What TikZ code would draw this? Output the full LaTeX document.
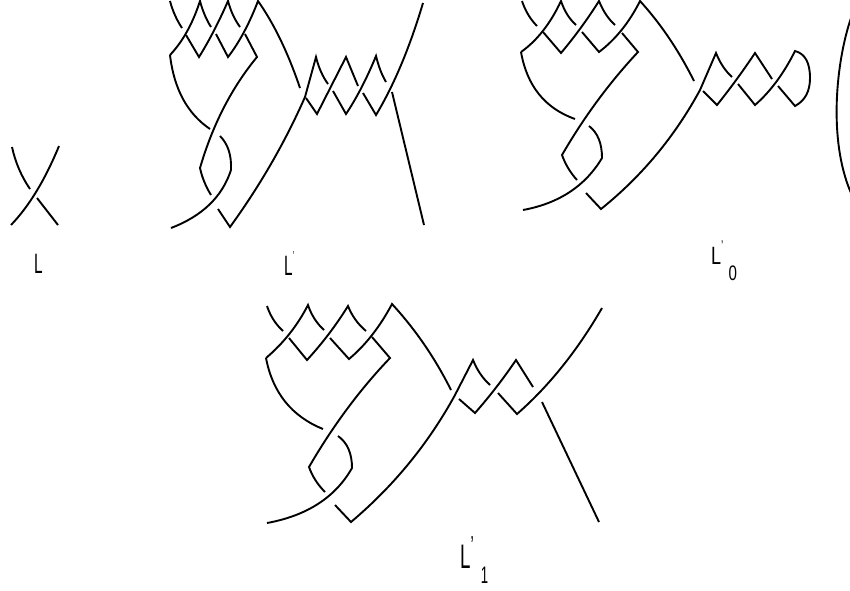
\documentclass[tikz,border=0pt]{standalone}
\usepackage{fontspec}
\usetikzlibrary{calc}
\setmainfont{Liberation Sans}
\newcommand{\narrow}[2][0.62]{\scalebox{#1}[1]{#2}}
\tikzset{
  strand/.style={line width=1.9pt,line cap=butt,line join=miter,black},
  q/.style={to path={.. controls ($(\tikztostart)!0.667!#1$) and ($(\tikztotarget)!0.667!#1$) .. (\tikztotarget)}},
  lab/.style={inner sep=0pt,anchor=base west}
}
\begin{document}
\begin{tikzpicture}[x=1pt,y=-1pt]
\useasboundingbox (0,0) rectangle (850,590);
% L
\begin{scope}[strand]
\draw (12,147) to[q={(17,170)}] (30,189);
\draw (11,225) to[q={(38,197)}] (59,146);
\draw (37,198) -- (58,225);
\end{scope}
\node[lab,font=\fontsize{28}{28}\selectfont] (labelL) at (34,273) {\narrow[0.55]{L}};
% L'
\begin{scope}[strand]
\draw (170,1) to[q={(174,16)}] (182,28);
\draw (170,55) to[q={(189,35)}] (200,1) to[q={(204,16)}] (211,27);
\draw (186,35) -- (199,57) to[q={(214,33)}] (228,1) to[q={(232,16)}] (240,27);
\draw (216,34) -- (228,57) to[q={(245,35)}] (258,1) to[q={(282,35)}] (300,88);
\draw (245,34) -- (257,57) to[q={(219,103)}] (200,168) to[q={(203,182)}] (211,195);
\draw (170,55) to[q={(176,106)}] (210,129);
\draw (220,136) to[q={(232,148)}] (231,170) to[q={(218,210)}] (171,228);
\draw (218,209) -- (230,227) to[q={(275,165)}] (305,97) -- (316,57) to[q={(320,73)}] (328,84);
\draw (306,98) -- (317,114) -- (346,57) -- (358,86);
\draw (333,91) -- (346,114) to[q={(362,90)}] (376,56) to[q={(380,72)}] (386,82);
\draw (363,93) -- (376,115) to[q={(403,70)}] (423,3);
\draw (392,92) -- (424,225);
\end{scope}
\node[lab,font=\fontsize{28}{28}\selectfont] (labelLp) at (284,275) {\narrow[0.55]{L\raisebox{15pt}{\fontsize{13}{13}\selectfont'}}};
% L'_0
\begin{scope}[strand]
\draw (522,1) to[q={(527,16)}] (537,26);
\draw (521,52) to[q={(545,35)}] (561,1) to[q={(566,16)}] (576,25);
\draw (543,32) -- (561,53) to[q={(582,28)}] (599,1) to[q={(605,16)}] (615,25);
\draw (582,32) -- (599,52) to[q={(624,33)}] (640,1) to[q={(671,35)}] (694,81);
\draw (622,33) -- (638,52) to[q={(595,98)}] (562,155) to[q={(567,169)}] (577,180);
\draw (521,52) to[q={(530,103)}] (575,119);
\draw (589,126) to[q={(602,136)}] (602,158) to[q={(577,200)}] (523,210);
\draw (586,193) -- (601,209) to[q={(662,160)}] (700,90) -- (716,53) to[q={(722,68)}] (732,77);
\draw (703,91) -- (717,105) to[q={(737,80)}] (755,53) -- (772,79);
\draw (738,84) -- (755,105) to[q={(778,85)}] (795,51) to[q={(810,55)}] (810,78) to[q={(810,98)}] (795,106) -- (778,86);
\draw (851,18) .. controls (836,62) and (828,140) .. (851,193);
\end{scope}
\node[lab,font=\fontsize{25}{25}\selectfont] (labelLz) at (711,264) {\narrow[0.72]{L\raisebox{14pt}{\fontsize{14}{14}\selectfont'}\hspace{7pt}\raisebox{-16pt}{\fontsize{21}{21}\selectfont 0}}};
% L'_1
\begin{scope}[strand]
\draw (267,306) to[q={(272,321)}] (283,331);
\draw (266,358) to[q={(292,336)}] (308,305) to[q={(313,320)}] (324,330);
\draw (289,338) -- (307,360) to[q={(330,335)}] (348,306) to[q={(354,321)}] (366,331);
\draw (330,338) -- (349,359) to[q={(374,338)}] (392,304) to[q={(427,342)}] (451,390);
\draw (372,337) -- (390,358) to[q={(345,405)}] (309,467) to[q={(314,481)}] (325,492);
\draw (266,358) to[q={(276,410)}] (323,429);
\draw (338,436) to[q={(352,446)}] (352,468) to[q={(327,512)}] (267,523);
\draw (335,505) -- (351,522) to[q={(415,468)}] (455,395) -- (473,360) to[q={(479,375)}] (490,385);
\draw (459,399) -- (475,413) to[q={(497,388)}] (516,360) -- (533,387);
\draw (498,393) -- (517,414) to[q={(565,372)}] (602,308);
\draw (542,402) -- (599,522);
\end{scope}
\node[lab,font=\fontsize{34}{34}\selectfont] (labelLo) at (460,568) {\narrow[0.55]{L\raisebox{14pt}{\fontsize{26}{26}\selectfont'}\hspace{13pt}\raisebox{-15pt}{\fontsize{24}{24}\selectfont 1}}};
\end{tikzpicture}
\end{document}
